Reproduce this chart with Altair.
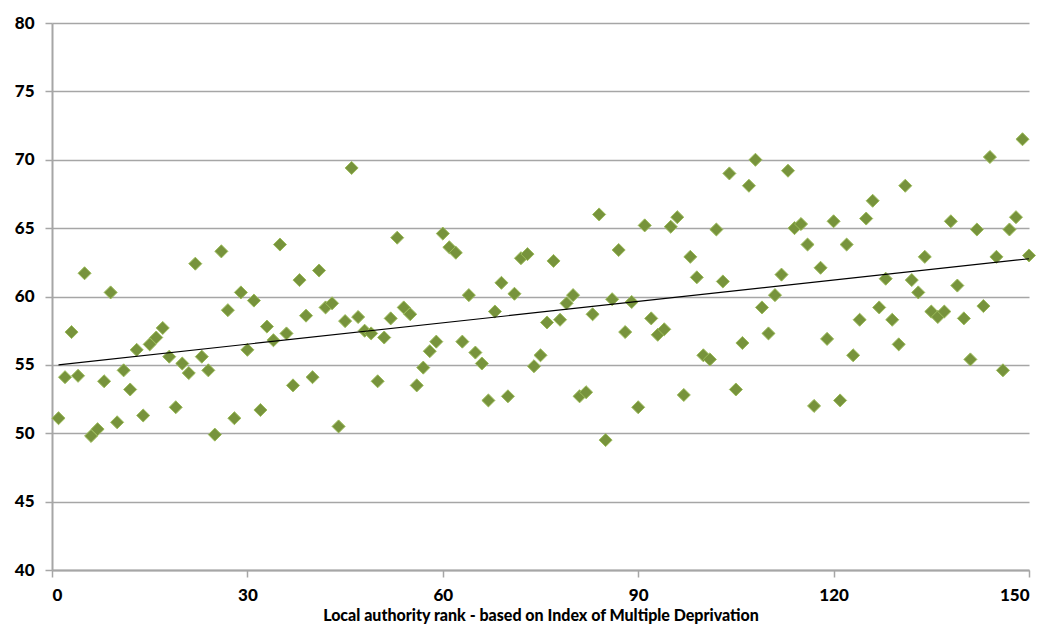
import altair as alt
import pandas as pd

rank = list(range(1, 151))
value = [
    51.1, 54.1, 57.4, 54.2, 61.7, 49.8, 50.3, 53.8, 60.3, 50.8,
    54.6, 53.2, 56.1, 51.3, 56.5, 57.0, 57.7, 55.6, 51.9, 55.1,
    54.4, 62.4, 55.6, 54.6, 49.9, 63.3, 59.0, 51.1, 60.3, 56.1,
    59.7, 51.7, 57.8, 56.8, 63.8, 57.3, 53.5, 61.2, 58.6, 54.1,
    61.9, 59.2, 59.5, 50.5, 58.2, 69.4, 58.5, 57.5, 57.3, 53.8,
    57.0, 58.4, 64.3, 59.2, 58.7, 53.5, 54.8, 56.0, 56.7, 64.6,
    63.6, 63.2, 56.7, 60.1, 55.9, 55.1, 52.4, 58.9, 61.0, 52.7,
    60.2, 62.8, 63.1, 54.9, 55.7, 58.1, 62.6, 58.3, 59.5, 60.1,
    52.7, 53.0, 58.7, 66.0, 49.5, 59.8, 63.4, 57.4, 59.6, 51.9,
    65.2, 58.4, 57.2, 57.6, 65.1, 65.8, 52.8, 62.9, 61.4, 55.7,
    55.4, 64.9, 61.1, 69.0, 53.2, 56.6, 68.1, 70.0, 59.2, 57.3,
    60.1, 61.6, 69.2, 65.0, 65.3, 63.8, 52.0, 62.1, 56.9, 65.5,
    52.4, 63.8, 55.7, 58.3, 65.7, 67.0, 59.2, 61.3, 58.3, 56.5,
    68.1, 61.2, 60.3, 62.9, 58.9, 58.5, 58.9, 65.5, 60.8, 58.4,
    55.4, 64.9, 59.3, 70.2, 62.9, 54.6, 64.9, 65.8, 71.5, 63.0,
]
x_ticks = [0, 30, 60, 90, 120, 150]
y_ticks = [40, 45, 50, 55, 60, 65, 70, 75, 80]

df = pd.DataFrame({"rank": rank, "value": value})

FONT = "Lato"
GRID = "#a6a6a6"

x_enc = alt.X(
    "rank:Q",
    scale=alt.Scale(domain=[0, 150], nice=False),
    axis=alt.Axis(
        values=x_ticks,
        title="Local authority rank - based on Index of Multiple Deprivation",
        grid=False,
        domainColor=GRID,
        domainWidth=2,
        tickColor=GRID,
        tickWidth=1.5,
        tickSize=7,
        labelFont=FONT,
        labelFontSize=17,
        labelFontWeight=900,
        labelColor="#000000",
        labelPadding=10,
        titleFont=FONT,
        titleFontSize=16,
        titleFontWeight=900,
        titleColor="#000000",
        titlePadding=4,
    ),
)
y_enc = alt.Y(
    "value:Q",
    scale=alt.Scale(domain=[40, 80], nice=False, zero=False),
    axis=alt.Axis(
        values=y_ticks,
        title=None,
        grid=True,
        gridColor=GRID,
        gridWidth=1.5,
        domainColor=GRID,
        domainWidth=2,
        tickColor=GRID,
        tickWidth=1.5,
        tickSize=7,
        labelFont=FONT,
        labelFontSize=17,
        labelFontWeight=900,
        labelColor="#000000",
        labelPadding=11,
    ),
)

points = alt.Chart(df).mark_point(
    shape="diamond", filled=True, fill="#77933C", stroke="#9BBB59",
    strokeWidth=1, size=170, opacity=1,
).encode(x=x_enc, y=y_enc)

trend = alt.Chart(df).transform_regression(
    "rank", "value", method="linear"
).mark_line(color="#000000", strokeWidth=1.2).encode(
    x=alt.X("rank:Q"), y=alt.Y("value:Q")
)

chart = alt.layer(points, trend).properties(
    width=977,
    height=547,
    padding={"left": 52, "top": 23, "right": 12, "bottom": 56},
    autosize=alt.AutoSizeParams(type="none"),
    background="#ffffff",
).configure_view(stroke=None)

chart.save("out.html", embed_options={"renderer": "svg", "actions": False})
